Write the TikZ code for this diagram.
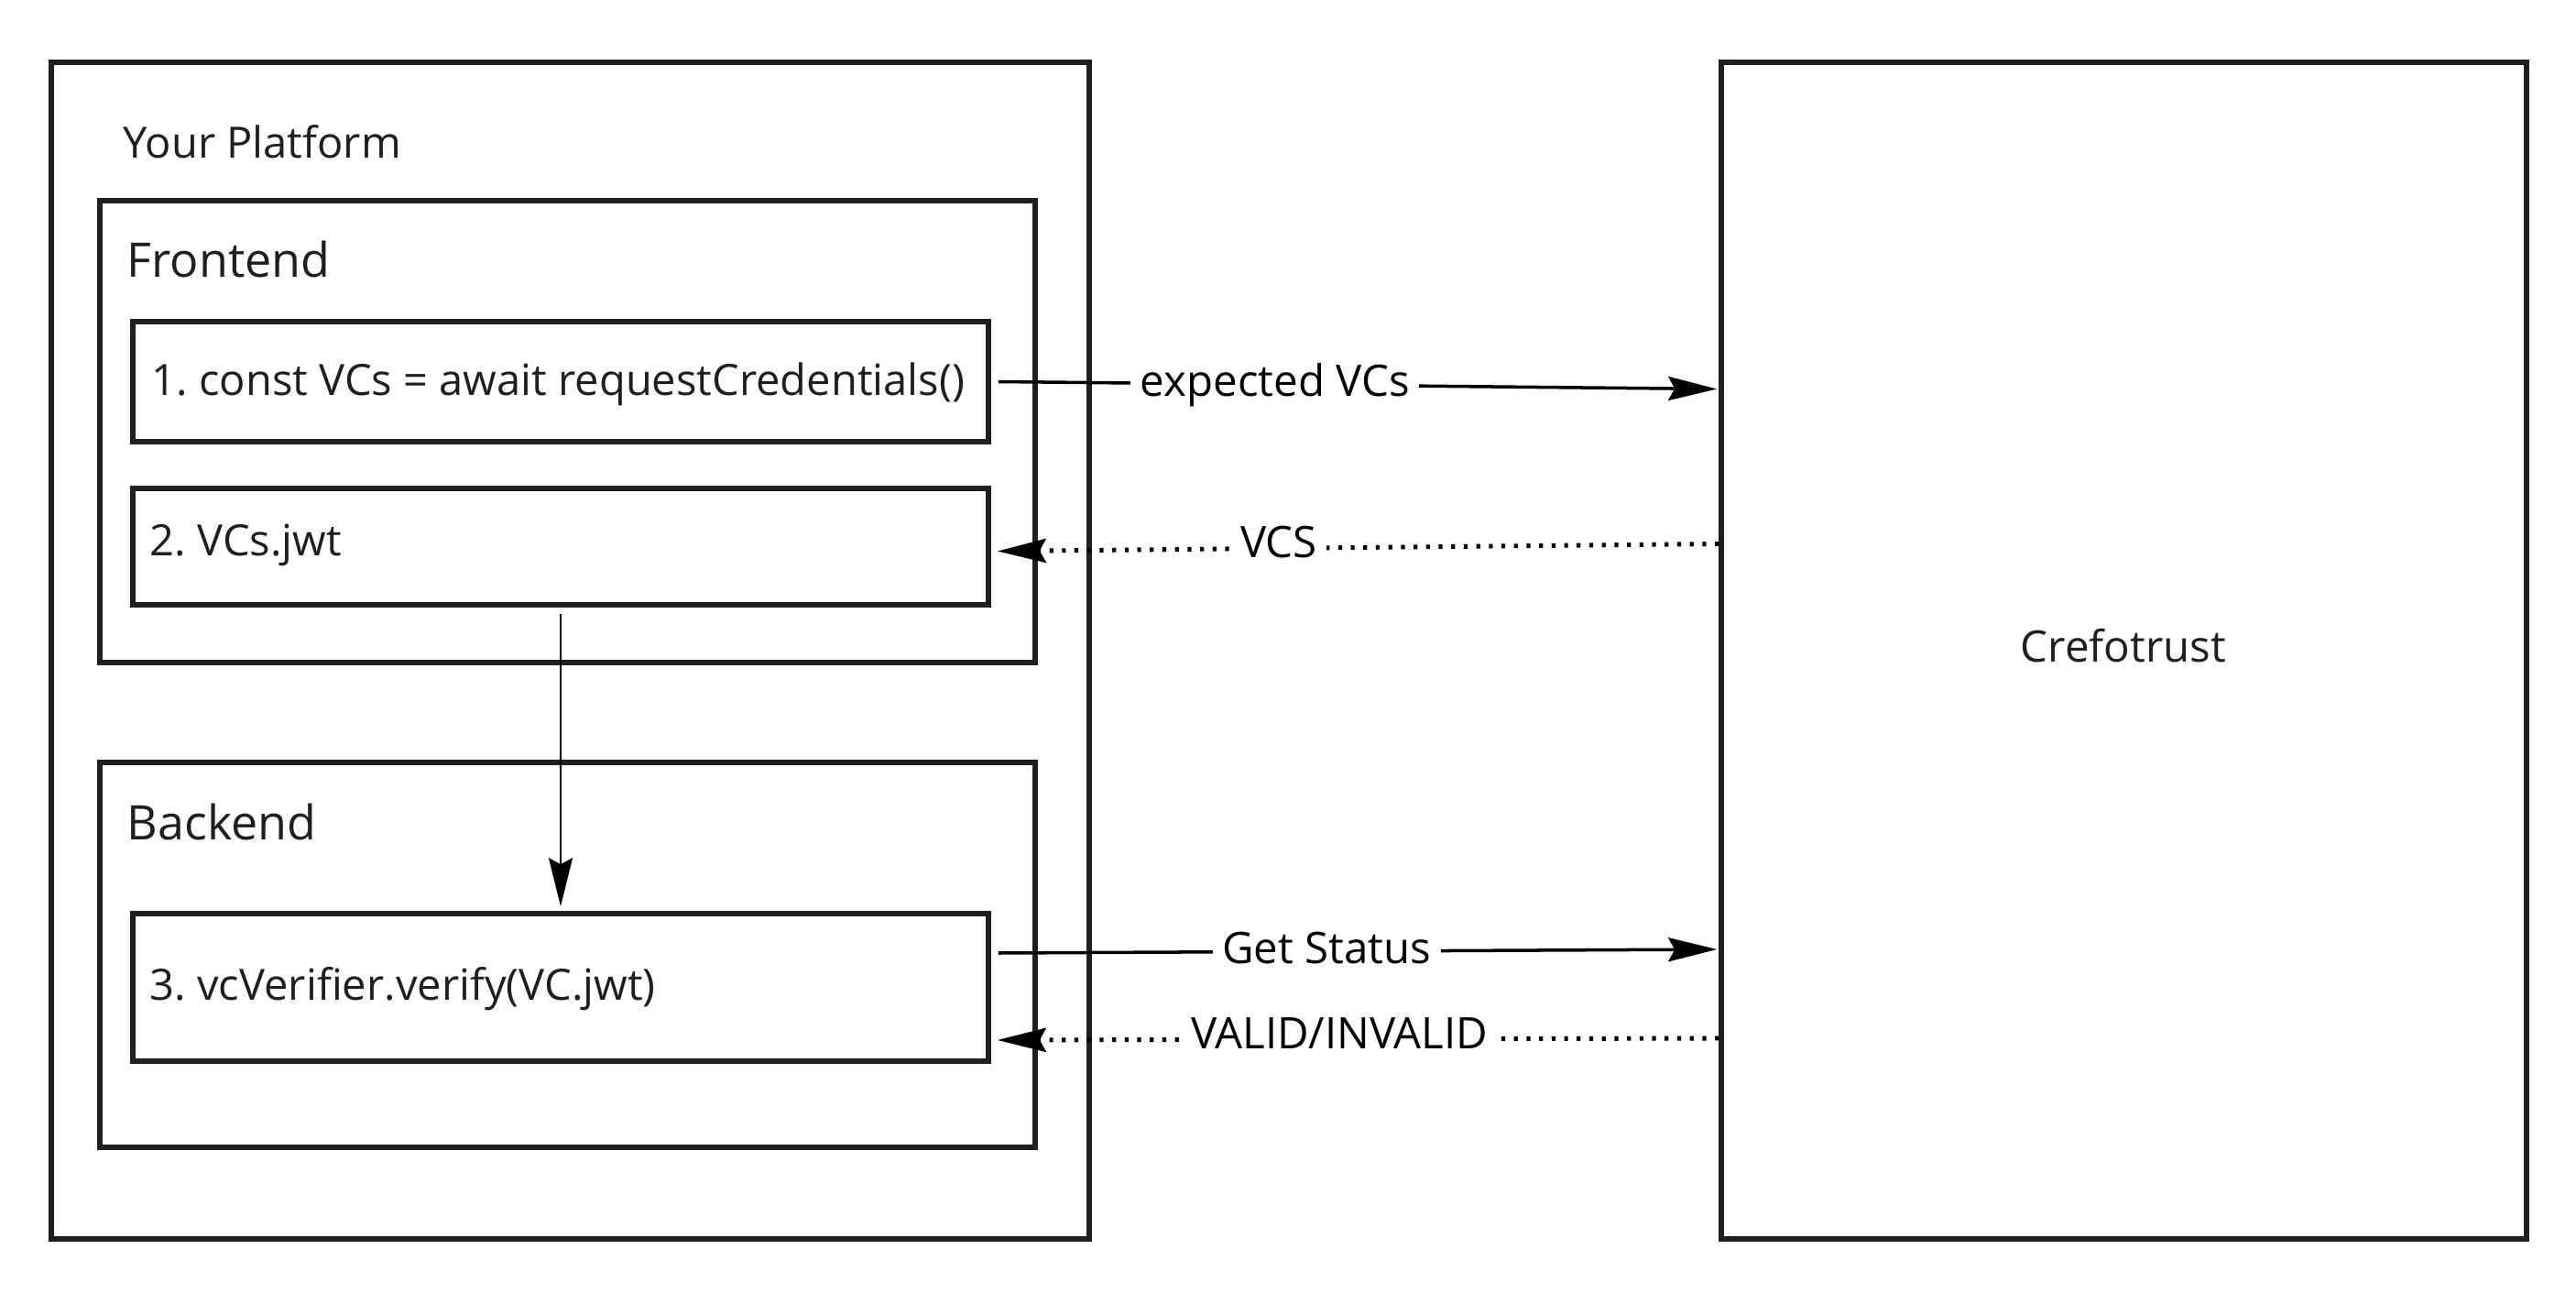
\documentclass[tikz,border=0pt]{standalone}
\usepackage{fontspec}
\setmainfont{Open Sans}
\usetikzlibrary{arrows.meta,positioning,calc}
\frenchspacing

\begin{document}
\begin{tikzpicture}[>={Stealth[length=5.3mm,width=2.6mm,inset=0.7mm]},
  frame/.style={draw=black!88,line width=1.6pt,inner sep=0pt},
  callbox/.style={frame,minimum width=9.34cm},
  head/.style={anchor=west,inner sep=0pt,font=\fontsize{14.8}{18}\selectfont,text=black!88},
  txt/.style={anchor=west,inner sep=0pt,font=\fontsize{13.4}{16}\selectfont,text=black!88,text height=1.33ex,text depth=0pt},
  msg/.style={fill=white,inner xsep=3pt,font=\fontsize{13.5}{16}\selectfont,text height=1.33ex,text depth=0.25ex},
  call/.style={line width=1pt},
  reply/.style={line width=1.4pt,dash pattern=on 1.2pt off 2.7pt}]
  \useasboundingbox (0,0) rectangle (28.12,14.22);
  % outer boxes
  \node[frame,minimum width=11.33cm,minimum height=12.84cm] at (6.225,7.12) (platform) {};
  \node[frame,minimum width=8.79cm,minimum height=12.84cm] at (23.185,7.12) (crefo) {};
  \node[font=\fontsize{13.5}{16}\selectfont,text=black!88] at (23.18,7.17) (crefolbl) {Crefotrust};
  \node[head,font=\fontsize{13.4}{16}\selectfont] at (1.34,12.67) (yourplat) {Your Platform};
  % frontend
  \node[frame,minimum width=10.21cm,minimum height=5.04cm] at (6.195,9.51) (front) {};
  \node[head] at (1.38,11.39) (frontlbl) {Frontend};
  \node[callbox,minimum height=1.31cm] at (6.12,10.055) (c1) {};
  \node[txt] at (1.65,10.03) (t1) {1. const VCs = await requestCredentials()};
  \node[callbox,minimum height=1.27cm] at (6.12,8.255) (c2) {};
  \node[txt] at (1.63,8.28) (t2) {2. VCs.jwt};
  % backend
  \node[frame,minimum width=10.21cm,minimum height=4.2cm] at (6.195,3.8) (back) {};
  \node[head] at (1.38,5.25) (backlbl) {Backend};
  \node[callbox,minimum height=1.61cm] at (6.12,3.445) (c3) {};
  \node[txt] at (1.63,3.43) (t3) {3. vcVerifier.verify(VC.jwt)};
  % messages
  \draw[call,->] ([xshift=0.8mm]c1.east) -- node[msg,pos=.385,yshift=-0.3mm] {expected VCs} ($(crefo.west |- c1.east)+(-0.02,-0.08)$);
  \draw[reply,->] ($(crefo.west |- c2.east)+(0,0.03)$) -- node[msg,pos=.61] {VCS} ([xshift=0.7mm,yshift=-0.5mm]c2.east);
  \draw[line width=0.7pt,->] ([yshift=-0.7mm]c2.south) -- ([yshift=0.5mm]c3.north);
  \draw[call,->] ([shift={(0.08,0.375)}]c3.east) -- node[msg,pos=.457,yshift=-0.3mm] {Get Status} ($(crefo.west |- c3.east)+(-0.02,0.415)$);
  \draw[reply,->] ($(crefo.west |- c3.east)+(0,-0.555)$) -- node[msg,pos=.526] {VALID/INVALID} ([shift={(0.07,-0.575)}]c3.east);
\end{tikzpicture}
\end{document}
